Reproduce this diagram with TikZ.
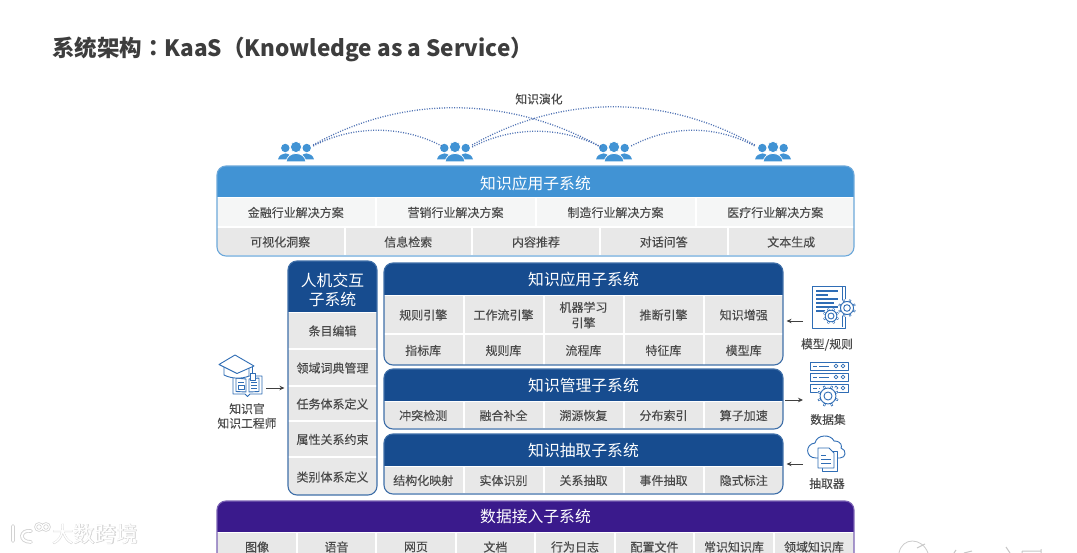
\documentclass[tikz,border=0pt]{standalone}
\usepackage{fontspec}
\setmainfont[FakeBold=0.18]{Noto Sans CJK SC}
\newfontfamily\plainfont{Noto Sans CJK SC}
\newfontfamily\tcfont{Noto Sans CJK TC}
\newfontfamily\heavyfont[FakeBold=2.2]{Noto Sans CJK SC}
\usetikzlibrary{arrows.meta,calc}
\definecolor{cLight}{HTML}{4193D4}
\definecolor{cLightB}{HTML}{6CA8DA}
\definecolor{cDark}{HTML}{174C8F}
\definecolor{cDarkB}{HTML}{3F6FA8}
\definecolor{cPurple}{HTML}{3A1A8C}
\definecolor{cPurpleB}{HTML}{7B63B4}
\definecolor{cGray}{HTML}{E8E8E8}
\definecolor{cPale}{HTML}{F5F6F6}
\definecolor{cText}{HTML}{4A4A4A}
\definecolor{cDot}{HTML}{4F72B4}
\definecolor{cIcon}{HTML}{2F6DB5}
\definecolor{cMark}{HTML}{D2D2D2}
\tikzset{
 cellbox/.style={fill=#1,draw=none,inner sep=0pt,text=cText,align=center,font=\fontsize{12}{15.5}\selectfont},
 headtext/.style={text=white,inner sep=0pt,align=center,font=\plainfont\fontsize{15.8}{19.5}\selectfont},
 lbl/.style={text=cText,inner sep=0pt,align=center,font=\fontsize{11.8}{14.5}\selectfont},
 arc/.style={cDot,line width=1.3pt,dash pattern=on 1pt off 1.5pt},
 arr/.style={-{Stealth[length=5pt,width=4.5pt]},line width=.9pt,black!75,shorten >=3pt},
 ic/.style={cIcon,line width=.9pt,line join=round},
}
\newcommand{\cellb}[7]{%
 \pgfmathsetmacro{\cw}{#4-#2}\pgfmathsetmacro{\ch}{#5-#3}%
 \pgfmathsetmacro{\cx}{(#2+#4)/2}\pgfmathsetmacro{\cy}{(#3+#5)/2}%
 \node[cellbox=#6,minimum width=\cw pt,minimum height=\ch pt,text depth=0pt] (#1) at (\cx,\cy) {#7};}
\newcommand{\panelb}[9]{%
 \begin{scope}
  \clip[rounded corners=9pt] (#2,#3) rectangle (#4,#5);
  \fill[white] (#2,#3) rectangle (#4,#5);
  \fill[#7] (#2,#3) rectangle (#4,#6);
  #9
 \end{scope}
 \pgfmathsetmacro{\pw}{#4-#2}\pgfmathsetmacro{\ph}{#5-#3}%
 \pgfmathsetmacro{\px}{(#2+#4)/2}\pgfmathsetmacro{\py}{(#3+#5)/2}%
 \node[draw=#8,line width=1.1pt,rounded corners=9pt,inner sep=0pt,minimum width=\pw pt,minimum height=\ph pt] (#1) at (\px,\py) {};}
\newcommand{\people}[3]{%
 \node[inner sep=0pt,minimum width=34pt,minimum height=17pt] (#1) at (#2,#3) {};
 \begin{scope}[shift={(#2,#3)}]
  \fill[cLight] (-10.7,-2) circle (4.2) (10.7,-2) circle (4.2);
  \fill[cLight] (-18,9.5) .. controls (-17,5) and (-14,4) .. (-10.7,3.4) .. controls (-7,4) and (-5,5) .. (-4,9.5) -- cycle;
  \fill[cLight] (18,9.5) .. controls (17,5) and (14,4) .. (10.7,3.4) .. controls (7,4) and (5,5) .. (4,9.5) -- cycle;
  \draw[white,line width=.7pt,fill=cLight] (0,-3) circle (5.6);
  \draw[white,line width=.7pt,fill=cLight] (-10,11.8) .. controls (-9,6.5) and (-6,4) .. (0,3.4) .. controls (6,4) and (9,6.5) .. (10,11.8) -- cycle;
 \end{scope}}
\newcommand{\gearb}[3]{%
 \begin{scope}[shift={(#1,#2)}]
  \fill[white] (0,0) circle (#3*1.22);
  \foreach \a in {0,45,...,315}{\draw[cIcon,line width=2.1pt] (\a+22:#3*0.85) -- (\a+22:#3*1.2);}
  \draw[ic,fill=white] (0,0) circle (#3*0.88);
  \foreach \a in {0,45,...,315}{\draw[white,line width=1pt] (\a+22:#3*.99) -- (\a+22:#3*1.12);}
  \draw[ic] (0,0) circle (#3*0.45);
 \end{scope}}
\begin{document}
\begin{tikzpicture}[x=1pt,y=-1pt]
\useasboundingbox (0,0) rectangle (1077,553);
\clip (0,0) rectangle (1077,553);
\fill[white] (0,0) rectangle (1077,553);

% title
\node[anchor=west,inner sep=0pt,text=black!76,font=\fontsize{22.5}{26}\selectfont\bfseries] (title) at (52,49) {\plainfont\bfseries 系统架构{\tcfont\bfseries ：}KaaS{\tcfont\bfseries （}Knowledge as a Service{\tcfont\bfseries ）}};

% evolution
\node[lbl] (evo) at (539,99) {知识演化};
\people{g1}{296}{150}
\people{g2}{455}{150}
\people{g3}{614}{150}
\people{g4}{773}{150}
\draw[arc] ($(g1.east)+(0,-5)$) .. controls +(90,-51) and +(-90,-51) .. ($(g3.west)+(4,-3)$);
\draw[arc] ($(g1.east)+(0,-4)$) .. controls +(40,-21) and +(-40,-21) .. ($(g2.west)+(4,-4)$);
\draw[arc] ($(g2.east)+(0,-5)$) .. controls +(90,-51) and +(-90,-51) .. ($(g4.west)+(-1,-5)$);
\draw[arc] ($(g2.east)+(0,-3)$) .. controls +(40,-21) and +(-40,-21) .. ($(g3.west)+(4,-3)$);
\draw[arc] ($(g3.east)+(0,-4)$) .. controls +(40,-21) and +(-40,-21) .. ($(g4.west)+(-1,-4)$);

% top panel
\panelb{pTop}{217}{166}{854}{256}{197}{cLight}{cLightB}{%
 \cellb{t1}{217}{198}{374.5}{226}{cPale}{金融行业解决方案}
 \cellb{t2}{376.5}{198}{534.5}{226}{cPale}{营销行业解决方案}
 \cellb{t3}{536.5}{198}{694.5}{226}{cPale}{制造行业解决方案}
 \cellb{t4}{696.5}{198}{854}{226}{cPale}{医疗行业解决方案}
 \cellb{u1}{217}{228}{343.5}{255}{cGray}{可视化洞察}
 \cellb{u2}{345.5}{228}{471}{255}{cGray}{信息检索}
 \cellb{u3}{473}{228}{599}{255}{cGray}{内容推荐}
 \cellb{u4}{601}{228}{726.5}{255}{cGray}{对话问答}
 \cellb{u5}{728.5}{228}{854}{255}{cGray}{文本生成}
}
\node[headtext] (hTop) at (535.5,183) {知识应用子系统};

% left panel
\panelb{pL}{288}{261}{377}{495}{312}{cDark}{cDarkB}{%
 \cellb{l1}{288}{313}{377}{348}{cGray}{条目编辑}
 \cellb{l2}{288}{350}{377}{385}{cGray}{领域词典管理}
 \cellb{l3}{288}{387}{377}{420}{cGray}{任务体系定义}
 \cellb{l4}{288}{422}{377}{456}{cGray}{属性关系约束}
 \cellb{l5}{288}{458}{377}{495}{cGray}{类别体系定义}
}
\node[headtext] (hL) at (332.5,290) {人机交互\\子系统};

% panel A
\panelb{pA}{384}{263}{783}{365}{295}{cDark}{cDarkB}{%
 \cellb{a1}{384}{296}{462.5}{333}{cGray}{规则引擎}
 \cellb{a2}{464.5}{296}{542.5}{333}{cGray}{工作流引擎}
 \cellb{a3}{544.5}{296}{622.5}{333}{cGray}{机器学习\\引擎}
 \cellb{a4}{624.5}{296}{702.5}{333}{cGray}{推断引擎}
 \cellb{a5}{704.5}{296}{783}{333}{cGray}{知识增强}
 \cellb{b1}{384}{335}{462.5}{365}{cGray}{指标库}
 \cellb{b2}{464.5}{335}{542.5}{365}{cGray}{规则库}
 \cellb{b3}{544.5}{335}{622.5}{365}{cGray}{流程库}
 \cellb{b4}{624.5}{335}{702.5}{365}{cGray}{特征库}
 \cellb{b5}{704.5}{335}{783}{365}{cGray}{模型库}
}
\node[headtext] (hA) at (583.5,279) {知识应用子系统};

% panel B
\panelb{pB}{384}{369}{783}{429}{401}{cDark}{cDarkB}{%
 \cellb{c1}{384}{402}{462.5}{428}{cGray}{冲突检测}
 \cellb{c2}{464.5}{402}{542.5}{428}{cGray}{融合补全}
 \cellb{c3}{544.5}{402}{622.5}{428}{cGray}{溯源恢复}
 \cellb{c4}{624.5}{402}{702.5}{428}{cGray}{分布索引}
 \cellb{c5}{704.5}{402}{783}{428}{cGray}{算子加速}
}
\node[headtext] (hB) at (583.5,385) {知识管理子系统};

% panel C
\panelb{pC}{384}{434}{783}{494}{466}{cDark}{cDarkB}{%
 \cellb{d1}{384}{467}{462.5}{493}{cGray}{结构化映射}
 \cellb{d2}{464.5}{467}{542.5}{493}{cGray}{实体识别}
 \cellb{d3}{544.5}{467}{622.5}{493}{cGray}{关系抽取}
 \cellb{d4}{624.5}{467}{702.5}{493}{cGray}{事件抽取}
 \cellb{d5}{704.5}{467}{783}{493}{cGray}{隐式标注}
}
\node[headtext] (hC) at (583.5,450) {知识抽取子系统};

% bottom panel
\panelb{pD}{217}{501}{854}{575}{532}{cPurple}{cPurpleB}{%
 \cellb{e1}{217}{533}{296}{575}{cGray}{}
 \cellb{e2}{298}{533}{375}{575}{cGray}{}
 \cellb{e3}{377}{533}{455}{575}{cGray}{}
 \cellb{e4}{457}{533}{534}{575}{cGray}{}
 \cellb{e5}{536}{533}{614}{575}{cGray}{}
 \cellb{e6}{616}{533}{693}{575}{cGray}{}
 \cellb{e7}{695}{533}{773}{575}{cGray}{}
 \cellb{e8}{775}{533}{854}{575}{cGray}{}
}
\foreach \n/\x/\t in {f1/257/图像,f2/336.5/语音,f3/416/网页,f4/495.5/文档,f5/575/行为日志,f6/654.5/配置文件,f7/734/常识知识库,f8/814/领域知识库}{
 \node[lbl,font=\fontsize{12}{15}\selectfont] (\n) at (\x,547) {\t};}
\node[headtext] (hD) at (535.5,516) {数据接入子系统};

% knowledge officer icon
\draw[ic,fill=white] (233,376) -- (233,394) -- (245,394) -- (247.5,396.5) -- (250,394) -- (262,394) -- (262,376) -- cycle;
\draw[ic] (236,378) -- (246,379) -- (246,392) -- (236,391.5) -- cycle (249,379) -- (259,378) -- (259,391.5) -- (249,392) -- cycle;
\draw[ic] (238,382) -- (244,382) (238,385) rectangle (244,389) (251,382) -- (257,382) (251,385) -- (257,385) (251,388) -- (257,388);
\draw[ic,fill=white] (224,367) -- (224,375) .. controls (232,379) and (242,379) .. (249,376) -- (249,367);
\draw[ic,fill=white] (219,364.5) -- (235,355) -- (254,366) -- (237,373.5) -- cycle;
\draw[ic,fill=white] (252,367) -- (252,373) (250,373) rectangle (255,380);
\node[lbl] (kLab) at (247,416) {知识官\\知识工程师};
\coordinate (k1) at (266,388);
\draw[arr] (k1) -- (k1 -| pL.west);

% model / rules icon
\draw[ic,fill=white] (812,286) rectangle (845,328);
\draw[ic] (842,287) -- (842,327);
\foreach \yy/\xa/\xb in {291/816/838,295/816/828,299/816/838,303/816/834,307/816/838,311/816/826}{\draw[cIcon,line width=1.1pt] (\xa,\yy) -- (\xb,\yy);}
\gearb{847}{308}{7.4}
\gearb{831}{316}{6.6}
\node[lbl] (mLab) at (827,344.5) {模型/规则};
\coordinate (m1) at (803,321);
\draw[arr] (m1) -- (m1 -| pA.east);

% data icon
\foreach \yy in {362,373,384}{
 \draw[ic,fill=white] (810,\yy) rectangle (848,\yy+8.5);
 \draw[cIcon,line width=.9pt] (819,\yy+4) -- (829,\yy+4);
 \draw[cIcon,line width=.7pt] (813,\yy+4) -- (817,\yy+4);
 \draw[cIcon,line width=.8pt] (836,\yy+4) circle (1.9) (843,\yy+4) circle (1.9);}
\gearb{828}{396}{9}
\node[lbl] (dLab) at (828,419.5) {数据集};
\coordinate (d0) at (785,400);
\coordinate (d1) at (812,400);
\draw[arr,shorten >=9pt] (d0) -- (d1);

% extractor icon
\draw[ic,fill=white] (816,458) .. controls (805,458) and (805,444) .. (815,443) .. controls (817,434) and (831,434) .. (834,441) .. controls (842,441) and (842,447) .. (841,448) .. controls (847,450) and (846,458) .. (840,458) -- cycle;
\draw[ic,fill=white] (822,451) rectangle (837,471);
\draw[ic,fill=white] (818,448) -- (829,448) -- (834,453) -- (834,468) -- (818,468) -- cycle;
\foreach \yy/\xb in {455/826,459/831,463/831}{\draw[cIcon,line width=1pt] (821,\yy) -- (\xb,\yy);}
\node[lbl] (xLab) at (827,483.5) {抽取器};
\coordinate (x1) at (803,464);
\draw[arr] (x1) -- (x1 -| pC.east);

% watermark left
\node[inner sep=0pt,text=cMark,font=\heavyfont\fontsize{21.5}{24}\selectfont] (wm0) at (95,534) {大数跨境};
\node[inner sep=0pt,text=white,font=\plainfont\fontsize{21.5}{24}\selectfont] (wm) at (95,534) {大数跨境};
\begin{scope}[line cap=round]
 \draw[cMark,line width=3.6pt] (13,526) -- (13,541) (31,531) .. controls (20,529) and (18,542) .. (31,542);
 \draw[cMark,line width=2.6pt] (39,527) circle (3.4) (46,527) circle (3.4);
 \draw[white,line width=1.9pt] (13,526) -- (13,541) (31,531) .. controls (20,529) and (18,542) .. (31,542);
 \draw[white,line width=1.1pt] (39,527) circle (3.4) (46,527) circle (3.4);
\end{scope}
% watermark right (cut off by the lower edge)
\draw[black!20,line width=.8pt] (899,553) .. controls (902,537) and (922,537) .. (928,553);
\draw[black!22,line width=1pt] (917,548) -- (925,544) (954,553) -- (956,550) (964,553) -- (972,551) (1006,547) -- (1010,553) (1022,551) -- (1041,551) (1022,551) -- (1022,553) (1041,549) -- (1041,553);
\end{tikzpicture}
\end{document}
